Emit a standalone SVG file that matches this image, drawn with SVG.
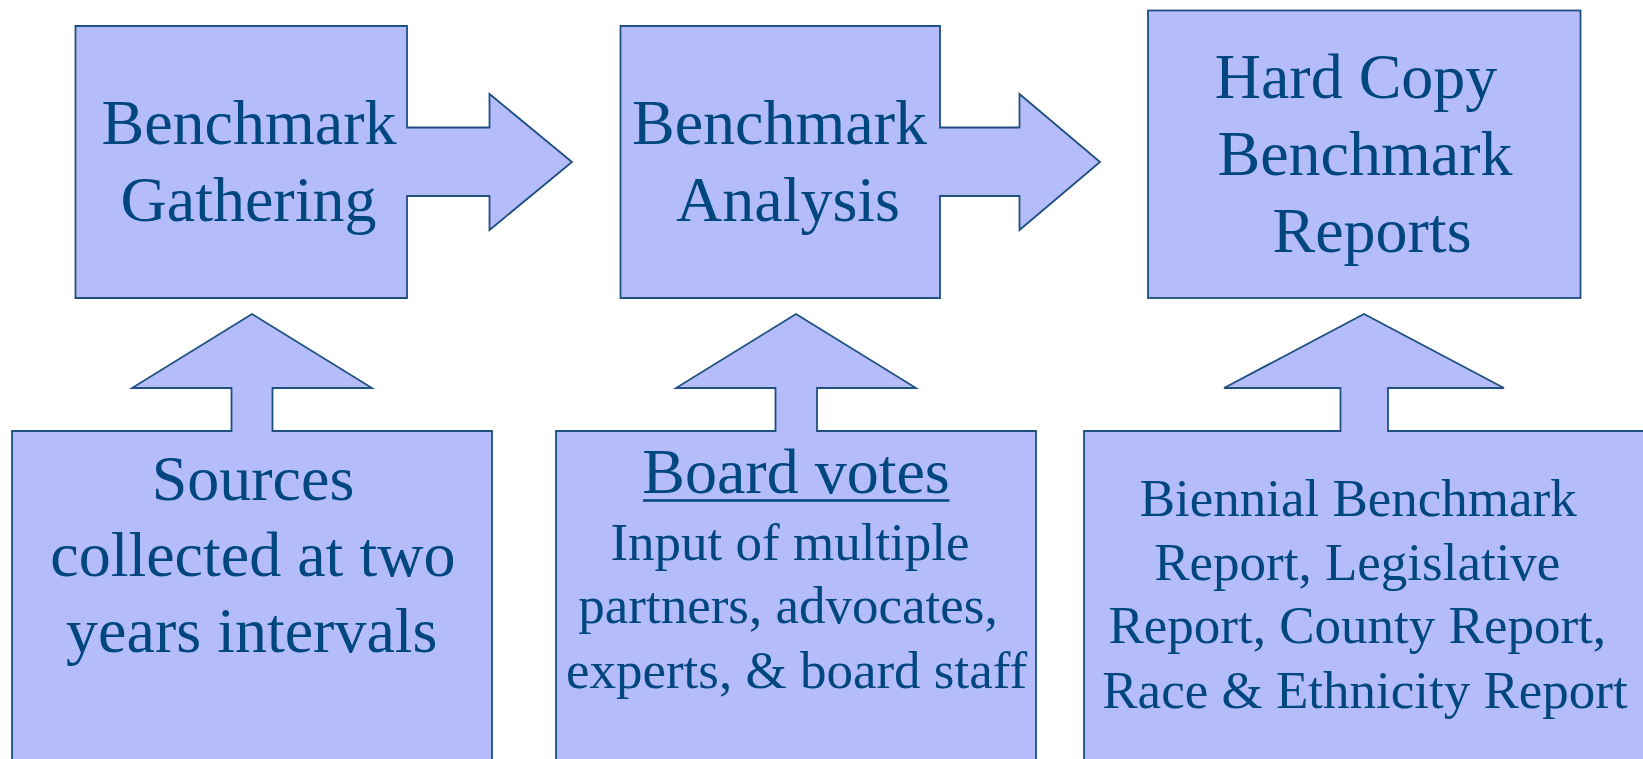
<svg xmlns="http://www.w3.org/2000/svg" width="1643" height="759" viewBox="0 0 1643 759">
<style>
.shape{fill:#b4bdfa;stroke:#1f4f80;stroke-width:1.8;stroke-linejoin:miter}
.t{font-family:"Liberation Serif","Times New Roman",serif;fill:#00467f;text-anchor:middle}
.big{font-size:64px}
.small{font-size:53px}
</style>
<rect width="1643" height="759" fill="#ffffff"/>
<g id="connectors"></g>
<g id="node-gathering">
<path class="shape" d="M75.5,26 H407 V127.5 H489.5 V94 L572,162 L489.5,230 V196 H407 V298 H75.5 Z"/>
<text class="t big" x="249" y="144">Benchmark</text>
<text class="t big" x="248.5" y="221">Gathering</text>
</g>
<g id="node-analysis">
<path class="shape" d="M620.5,26 H940 V127.5 H1019.5 V94 L1100,162 L1019.5,230 V196 H940 V298 H620.5 Z"/>
<text class="t big" x="779.5" y="144">Benchmark</text>
<text class="t big" x="788" y="221">Analysis</text>
</g>
<g id="node-reports">
<rect class="shape" x="1148" y="10.5" width="432.5" height="287.5"/>
<text class="t big" x="1356" y="98">Hard Copy</text>
<text class="t big" x="1365" y="175">Benchmark</text>
<text class="t big" x="1372" y="252">Reports</text>
</g>
<g id="node-sources">
<path class="shape" d="M12,431 H231.5 V388 H132 L252,314 L372,388 H272.5 V431 H492 V775 H12 Z"/>
<text class="t big" x="253" y="500">Sources</text>
<text class="t big" x="252.8" y="576">collected at two</text>
<text class="t big" x="251.8" y="652">years intervals</text>
</g>
<g id="node-board">
<path class="shape" d="M556,431 H775.5 V388 H676 L796,314 L916,388 H817 V431 H1036 V775 H556 Z"/>
<text class="t big" x="796" y="493">Board votes</text>
<line x1="643" y1="500.5" x2="949.5" y2="500.5" stroke="#00467f" stroke-width="2.6"/>
<text class="t small" x="790" y="559.5">Input of multiple</text>
<text class="t small" x="788" y="623">partners, advocates,</text>
<text class="t small" x="796.5" y="688">experts, &amp; board staff</text>
</g>
<g id="node-report-types">
<path class="shape" d="M1084,431 H1340.5 V388 H1224 L1364,314 L1504,388 H1388 V431 H1660 V775 H1084 Z"/>
<text class="t small" x="1358.2" y="516">Biennial Benchmark</text>
<text class="t small" x="1357.3" y="579.5">Report, Legislative</text>
<text class="t small" x="1357.3" y="643">Report, County Report,</text>
<text class="t small" x="1365" y="707.5">Race &amp; Ethnicity Report</text>
</g>
</svg>
